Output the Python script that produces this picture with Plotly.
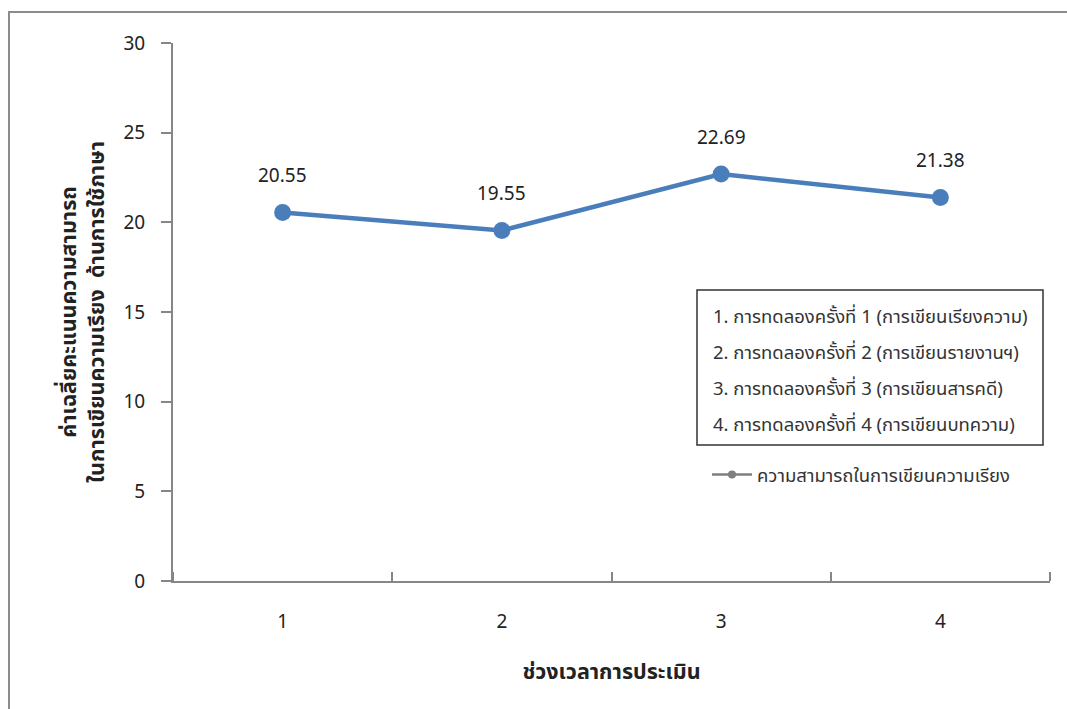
import plotly.graph_objects as go

periods = [1, 2, 3, 4]
period_labels = ["1", "2", "3", "4"]
scores = [20.55, 19.55, 22.69, 21.38]
score_labels = ["20.55", "19.55", "22.69", "21.38"]
y_ticks = [0, 5, 10, 15, 20, 25, 30]
key_lines = [
    "1. การทดลองครั้งที่ 1 (การเขียนเรียงความ)",
    "2. การทดลองครั้งที่ 2 (การเขียนรายงานฯ)",
    "3. การทดลองครั้งที่ 3 (การเขียนสารคดี)",
    "4. การทดลองครั้งที่ 4 (การเขียนบทความ)",
]
series_name = "ความสามารถในการเขียนความเรียง"
x_title = "ช่วงเวลาการประเมิน"
y_title = "ค่าเฉลี่ยคะแนนความสามารถ<br>ในการเขียนความเรียง  ด้านการใช้ภาษา"

FONT = "Tahoma, 'Noto Sans Thai', 'DejaVu Sans', sans-serif"
BLUE = "#4A7EBB"
AXIS = "#868686"

W, H = 1067, 709
L, R, T, B = 173, 17, 43, 128
PW, PH = W - L - R, H - T - B


def px(x):
    return (x - L) / PW


def py(y):
    return (H - B - y) / PH


fig = go.Figure()

fig.add_trace(go.Scatter(
    x=periods, y=scores, mode="lines+markers",
    line=dict(color=BLUE, width=4.5),
    marker=dict(color=BLUE, size=17),
    showlegend=False, cliponaxis=False,
))

# value labels above each point
for xv, yv, lab in zip(periods, scores, score_labels):
    fig.add_annotation(x=xv, y=yv, text=lab, showarrow=False,
                       yanchor="middle", yshift=36,
                       font=dict(family=FONT, size=19, color="#222222"))

# grey key entry below the box
fig.add_trace(go.Scatter(
    x=[None], y=[None], mode="lines+markers", name=series_name,
    line=dict(color="#7F7F7F", width=2.5),
    marker=dict(color="#7F7F7F", size=8),
    showlegend=True,
))

fig.update_layout(
    width=W, height=H,
    margin=dict(l=L, r=R, t=T, b=B),
    paper_bgcolor="white", plot_bgcolor="white",
    font=dict(family=FONT, size=19, color="#222222"),
    legend=dict(
        x=px(707), y=py(475), xanchor="left", yanchor="middle",
        font=dict(family=FONT, size=18.5, color="#333333"),
        bgcolor="rgba(0,0,0,0)", itemwidth=40,
    ),
    xaxis=dict(
        range=[0.5, 4.5], tickvals=periods, ticktext=period_labels,
        ticks="", showgrid=False, zeroline=False,
        showline=True, linecolor=AXIS, linewidth=2,
        tickfont=dict(size=19), ticklabelstandoff=22,
        minor=dict(tickvals=[0.5, 1.5, 2.5, 3.5, 4.5], ticks="inside",
                   ticklen=9, tickcolor=AXIS, tickwidth=2, showgrid=False),
        title=dict(text="<b>" + x_title + "</b>", font=dict(size=21.5), standoff=28),
    ),
    yaxis=dict(
        range=[0, 30], tickvals=y_ticks, ticks="outside", ticklen=10,
        tickcolor=AXIS, tickwidth=2, showgrid=False, zeroline=False,
        showline=True, linecolor=AXIS, linewidth=2,
        tickfont=dict(size=19), ticklabelstandoff=12,
        title=dict(text="<b>" + y_title + "</b>", font=dict(size=21.5), standoff=13),
    ),
)

# outer chart frame
fig.add_shape(type="rect", xref="paper", yref="paper",
              x0=px(9), x1=px(1100), y0=py(740), y1=py(12),
              line=dict(color="#8C8C8C", width=2), layer="below")

# key box
fig.add_shape(type="rect", xref="paper", yref="paper",
              x0=px(697), x1=px(1043), y0=py(445), y1=py(290),
              line=dict(color="#333333", width=1.5))
for i, txt in enumerate(key_lines):
    fig.add_annotation(xref="paper", yref="paper", x=px(711), y=py(317 + i * 36),
                       text=txt, showarrow=False, xanchor="left", yanchor="middle",
                       font=dict(family=FONT, size=18.5, color="#333333"))

fig.write_html("out.html")
